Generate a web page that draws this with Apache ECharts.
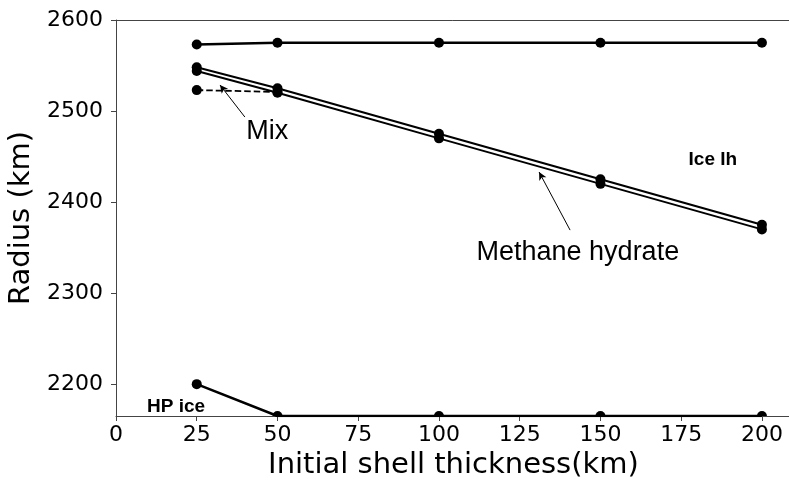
<!DOCTYPE html>
<html>
<head>
<meta charset="utf-8">
<script src="https://cdn.jsdelivr.net/npm/echarts@6/dist/echarts.min.js"></script>
<style>
  html, body { margin: 0; padding: 0; background: #fff; }
  #chart { width: 789px; height: 481px; }
</style>
</head>
<body>
<div id="chart"></div>
<script>
// Shell thickness (km) at which each model was run
const thickness = [25, 50, 100, 150, 200];
// Outer radius of each layer (km)
const iceIh = [2573, 2575, 2575, 2575, 2575];
const hydrateUpper = [2548, 2525, 2475, 2425, 2375];
const hydrateLower = [2544, 2520, 2470, 2420, 2370];
const mixThickness = [25, 50];
const mixRadius = [2523, 2521];
const hpIce = [2200, 2165, 2165, 2165, 2165];

const xTicks = [0, 25, 50, 75, 100, 125, 150, 175, 200];
const yTicks = [2200, 2300, 2400, 2500, 2600];
const xMin = 0, xMax = 209;
const yMin = 2165, yMax = 2600;

// Text annotations placed in data coordinates [thickness, radius]
const labels = [
  { text: 'Mix', at: [46.8, 2477], bold: false },
  { text: 'Methane hydrate', at: [143.0, 2345], bold: false },
  { text: 'Ice Ih', at: [184.8, 2447], bold: true },
  { text: 'HP ice', at: [18.6, 2175], bold: true }
];
// Arrows from label towards the curve: [tail, head]
const arrows = [
  [[39.9, 2493.4], [32.2, 2528.6]],
  [[140.6, 2369.2], [131.0, 2433.0]]
];

const pairs = (xs, ys) => xs.map((x, i) => [x, ys[i]]);

// Points sitting on the lower edge of the plot are cut in half by the frame
const halfDisk = 'path://M0 10 A10 10 0 0 1 20 10 Z';
function withEdgeMarkers(points) {
  return points.map(p => p[1] <= yMin
    ? { value: p, symbol: halfDisk, symbolSize: [10, 5], symbolOffset: [0, '-50%'] }
    : { value: p });
}

const AX = '#444';
const tickFont = { fontFamily: 'DejaVu Sans', fontSize: 22, color: '#000' };
const plain = v => String(v);

function lineSeries(name, data, width, extra) {
  return Object.assign({
    name: name,
    type: 'line',
    data: data,
    symbol: 'circle',
    symbolSize: 10,
    itemStyle: { color: '#000' },
    lineStyle: { color: '#000', width: width },
    emphasis: { disabled: true },
    silent: true,
    z: 3
  }, extra || {});
}

const chart = echarts.init(document.getElementById('chart'), null, { renderer: 'canvas' });

chart.setOption({
  animation: false,
  backgroundColor: '#fff',
  grid: { left: 116, top: 20, width: 675, height: 396, containLabel: false, outerBoundsMode: 'none' },
  xAxis: [
    {
      type: 'value',
      min: xMin, max: xMax,
      name: 'Initial shell thickness(km)',
      nameLocation: 'middle',
      nameGap: 34,
      nameTextStyle: { fontFamily: 'DejaVu Sans', fontSize: 29, color: '#000', verticalAlign: 'top' },
      axisLine: { show: true, lineStyle: { color: AX, width: 1 } },
      axisTick: { show: true, length: 5, lineStyle: { color: AX }, customValues: xTicks },
      axisLabel: Object.assign({ margin: 8, customValues: xTicks, formatter: plain }, tickFont),
      splitLine: { show: false }
    },
    {
      type: 'value',
      position: 'top',
      min: xMin, max: xMax,
      axisLine: { show: true, onZero: false, lineStyle: { color: AX, width: 1 } },
      axisTick: { show: false },
      axisLabel: { show: false },
      splitLine: { show: false }
    }
  ],
  yAxis: {
    type: 'value',
    min: yMin, max: yMax,
    name: 'Radius (km)',
    nameLocation: 'middle',
    nameGap: 71,
    nameRotate: 90,
    nameTextStyle: { fontFamily: 'DejaVu Sans', fontSize: 29, color: '#000' },
    axisLine: { show: true, lineStyle: { color: AX, width: 1 } },
    axisTick: { show: true, length: 5, lineStyle: { color: AX }, customValues: yTicks },
    axisLabel: Object.assign({ margin: 13, customValues: yTicks, formatter: plain }, tickFont),
    splitLine: { show: false }
  },
  series: [
    lineSeries('Ice Ih', pairs(thickness, iceIh), 2.5, {
      markPoint: {
        silent: true,
        symbol: 'circle',
        symbolSize: 0,
        data: labels.map(l => ({
          coord: l.at,
          label: {
            show: true,
            position: 'inside',
            formatter: l.text,
            fontFamily: 'Liberation Sans',
            fontSize: l.bold ? 19 : 27,
            fontWeight: l.bold ? 'bold' : 'normal',
            color: '#000'
          }
        }))
      },
      markLine: {
        silent: true,
        symbol: ['none', 'arrow'],
        symbolSize: [6, 8],
        label: { show: false },
        lineStyle: { color: '#000', width: 1, type: 'solid' },
        data: arrows.map(a => [{ coord: a[0] }, { coord: a[1] }])
      }
    }),
    lineSeries('Methane hydrate (upper)', pairs(thickness, hydrateUpper), 2),
    lineSeries('Methane hydrate (lower)', pairs(thickness, hydrateLower), 2),
    lineSeries('Mix', pairs(mixThickness, mixRadius), 1.8, {
      lineStyle: { color: '#000', width: 1.8, type: [6.5, 3] }
    }),
    lineSeries('HP ice', withEdgeMarkers(pairs(thickness, hpIce)), 2.5)
  ]
});
</script>
</body>
</html>
